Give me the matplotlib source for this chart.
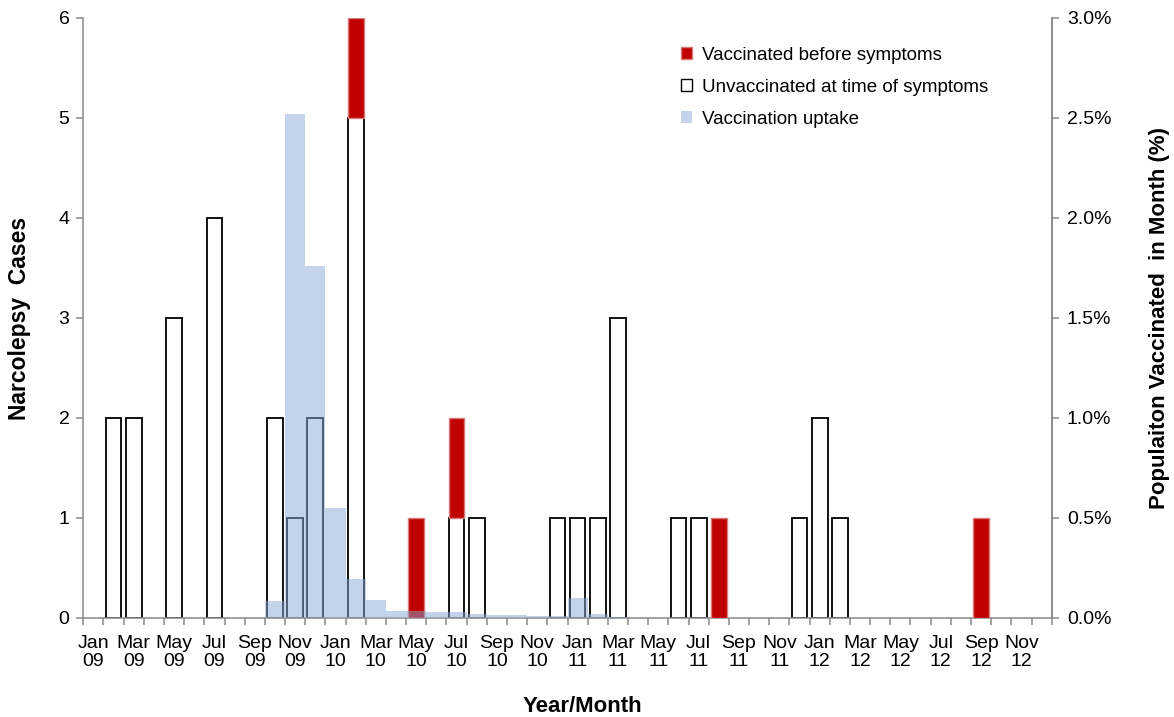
import numpy as np
import matplotlib
matplotlib.use("Agg")
import matplotlib.pyplot as plt
from matplotlib.patches import Patch
from matplotlib.ticker import FuncFormatter

plt.rcParams['font.family'] = ['Liberation Sans', 'DejaVu Sans']

# monthly data, Jan 09 .. Dec 12
unvaccinated = [0, 2, 2, 0, 3, 0, 4, 0, 0, 2, 1, 2,
                0, 5, 0, 0, 0, 0, 1, 1, 0, 0, 0, 1,
                1, 1, 3, 0, 0, 1, 1, 0, 0, 0, 0, 1,
                2, 1, 0, 0, 0, 0, 0, 0, 0, 0, 0, 0]
vaccinated = [0, 0, 0, 0, 0, 0, 0, 0, 0, 0, 0, 0,
              0, 1, 0, 0, 1, 0, 1, 0, 0, 0, 0, 0,
              0, 0, 0, 0, 0, 0, 0, 1, 0, 0, 0, 0,
              0, 0, 0, 0, 0, 0, 0, 0, 1, 0, 0, 0]
# % of population vaccinated in month
uptake = [0, 0, 0, 0, 0, 0, 0, 0, 0, 0.085, 2.52, 1.76,
          0.55, 0.195, 0.09, 0.035, 0.034, 0.032, 0.028, 0.018, 0.015, 0.015, 0.01, 0.008,
          0.10, 0.02, 0.005, 0, 0, 0, 0, 0, 0, 0, 0, 0,
          0, 0, 0, 0, 0, 0, 0, 0, 0, 0, 0, 0]
tick_labels = ['Jan\n09', 'Mar\n09', 'May\n09', 'Jul\n09', 'Sep\n09', 'Nov\n09',
               'Jan\n10', 'Mar\n10', 'May\n10', 'Jul\n10', 'Sep\n10', 'Nov\n10',
               'Jan\n11', 'Mar\n11', 'May\n11', 'Jul\n11', 'Sep\n11', 'Nov\n11',
               'Jan\n12', 'Mar\n12', 'May\n12', 'Jul\n12', 'Sep\n12', 'Nov\n12']

unvacc = np.array(unvaccinated, dtype=float)
vacc = np.array(vaccinated, dtype=float)
upt = np.array(uptake, dtype=float)
x = np.arange(len(unvacc))

W, H = 1174, 717
fig = plt.figure(figsize=(W / 100, H / 100), dpi=100)
ax = fig.add_axes([83.3 / W, 1 - 618 / H, 968.4 / W, 600 / H])
ax2 = ax.twinx()

gray = '#898989'

# case bars
m = unvacc > 0
ax.bar(x[m], unvacc[m], width=0.78, facecolor='none', edgecolor='black', linewidth=1.3, zorder=2)
m = vacc > 0
ax.bar(x[m], vacc[m], bottom=unvacc[m], width=0.78, facecolor='#c00000',
       edgecolor='#d97a7a', linewidth=1.0, zorder=3)

# uptake bars on top, see-through
m = upt > 0
ax2.bar(x[m], upt[m], width=1.0, color='#89a9d5', alpha=0.5, linewidth=0)

ax.set_xlim(-0.5, len(x) - 0.5)
ax.set_ylim(0, 6)
ax2.set_ylim(0, 3)
ax.set_yticks(range(0, 7))
ax2.set_yticks(np.arange(0, 3.01, 0.5))
ax2.yaxis.set_major_formatter(FuncFormatter(lambda v, p: '%.1f%%' % v))

ax.set_xticks(np.arange(-0.5, len(x), 1))
ax.set_xticklabels([])
ax.set_xticks(np.arange(0, len(x), 2), minor=True)
ax.set_xticklabels(tick_labels, minor=True, linespacing=1.1)
ax.tick_params(axis='x', which='major', length=5, width=1.1, color=gray, direction='out')
ax.tick_params(axis='x', which='minor', length=0, pad=12, labelsize=14)
ax.tick_params(axis='y', length=5, width=1.1, color=gray, labelsize=14, pad=5)
ax2.tick_params(axis='y', length=5, width=1.1, color=gray, labelsize=14, pad=6)

ax.spines['top'].set_visible(False)
for s in ['top', 'left', 'bottom']:
    ax2.spines[s].set_visible(False)
for s in ['left', 'bottom', 'right']:
    ax.spines[s].set_color(gray)
    ax.spines[s].set_linewidth(1.1)
ax2.spines['right'].set_color(gray)
ax2.spines['right'].set_linewidth(1.1)

ax.set_ylabel('Narcolepsy  Cases', fontsize=16.5, fontweight='bold')
ax.yaxis.set_label_coords(-0.054, 0.5)
ax2.set_ylabel('Populaiton Vaccinated  in Month (%)', fontsize=16, fontweight='bold')
ax2.yaxis.set_label_coords(1.1005, 0.5)
fig.text(582 / W, 1 - 707 / H, 'Year/Month', ha='center', va='center',
         fontsize=16, fontweight='bold')

handles = [Patch(facecolor='#c00000', edgecolor='#d97a7a'),
           Patch(facecolor='white', edgecolor='black'),
           Patch(facecolor='#c4d4ea', edgecolor='none')]
labels = ['Vaccinated before symptoms', 'Unvaccinated at time of symptoms', 'Vaccination uptake']
ax2.legend(handles, labels, loc='upper left', bbox_to_anchor=(681 / W, 1 - 47 / H),
           bbox_transform=fig.transFigure, frameon=False, fontsize=13.5,
           handlelength=0.6, handleheight=0.6, handletextpad=0.5,
           labelspacing=0.8, borderpad=0, borderaxespad=0)

fig.savefig('out.png', dpi=100)
